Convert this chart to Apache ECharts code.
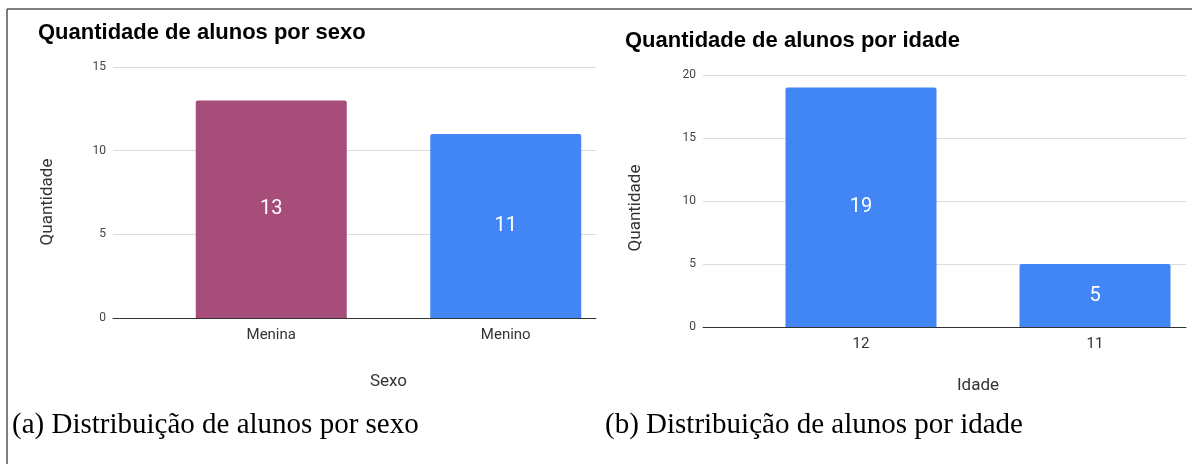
<!DOCTYPE html>
<html>
<head>
<meta charset="utf-8">
<script src="https://cdn.jsdelivr.net/npm/echarts@6/dist/echarts.min.js"></script>
<style>
html,body{margin:0;padding:0;background:#fff;}
#chart{width:1192px;height:464px;}
</style>
</head>
<body>
<div id="chart"></div>
<script>
const sexoCategorias = ['Menina', 'Menino'];
const sexoValores = [13, 11];
const sexoCores = ['#A64D79', '#4285F4'];
const sexoTicks = [0, 5, 10, 15];

const idadeCategorias = ['12', '11'];
const idadeValores = [19, 5];
const idadeCores = ['#4285F4', '#4285F4'];
const idadeTicks = [0, 5, 10, 15, 20];

const titulo1 = 'Quantidade de alunos por sexo';
const titulo2 = 'Quantidade de alunos por idade';
const legenda1 = '(a) Distribuição de alunos por sexo';
const legenda2 = '(b) Distribuição de alunos por idade';

const chart = echarts.init(document.getElementById('chart'), null, {renderer: 'canvas'});

const SANS = 'Roboto';
const tickStyle = {fontFamily: SANS, fontSize: 12, color: '#444'};
const catStyle = {fontFamily: SANS, fontSize: 15, color: '#333'};
const nameStyle = {fontFamily: SANS, fontSize: 17, color: '#333'};

function frameAxes(g, cats, ticks) {
  const step = ticks[1] - ticks[0];
  return {
    x: {
      gridIndex: g, type: 'category', data: cats,
      axisLabel: {show: false}, axisTick: {show: false},
      axisLine: {lineStyle: {color: '#333', width: 1}}
    },
    y: {
      gridIndex: g, type: 'value', min: ticks[0], max: ticks[ticks.length - 1], interval: step,
      axisLabel: Object.assign({margin: 7}, tickStyle),
      axisTick: {show: false}, axisLine: {show: false},
      splitLine: {lineStyle: {color: '#dcdcdc', width: 1}}
    }
  };
}
function barAxes(g, cats, ticks, name, gap) {
  return {
    x: {
      gridIndex: g, type: 'category', data: cats,
      axisLine: {show: false}, axisTick: {show: false},
      axisLabel: Object.assign({margin: 10}, catStyle),
      name: name, nameLocation: 'middle', nameGap: gap, nameTextStyle: nameStyle
    },
    y: {
      gridIndex: g, type: 'value', min: ticks[0], max: ticks[ticks.length - 1],
      show: false, splitLine: {show: false}
    }
  };
}

const f1 = frameAxes(0, sexoCategorias, sexoTicks);
const b1 = barAxes(1, sexoCategorias, sexoTicks, 'Sexo', 55);
const f2 = frameAxes(2, idadeCategorias, idadeTicks);
const b2 = barAxes(3, idadeCategorias, idadeTicks, 'Idade', 50);

function barSeries(xi, vals, cols) {
  return {
    type: 'bar', xAxisIndex: xi, yAxisIndex: xi, barWidth: 151,
    data: vals.map((v, i) => ({value: v, itemStyle: {color: cols[i], borderRadius: [2, 2, 0, 0]}})),
    label: {show: true, position: 'inside', color: '#fff', fontFamily: SANS, fontSize: 20},
    silent: true, animation: false
  };
}

const option = {
  animation: false,
  grid: [
    {left: 113, top: 67, width: 483, height: 251, outerBoundsMode: 'none', containLabel: false},
    {left: 154, top: 67, width: 469, height: 251, outerBoundsMode: 'none', containLabel: false},
    {left: 703, top: 75, width: 483, height: 252, outerBoundsMode: 'none', containLabel: false},
    {left: 744, top: 75, width: 468, height: 252, outerBoundsMode: 'none', containLabel: false}
  ],
  xAxis: [f1.x, b1.x, f2.x, b2.x],
  yAxis: [f1.y, b1.y, f2.y, b2.y],
  series: [barSeries(1, sexoValores, sexoCores), barSeries(3, idadeValores, idadeCores)],
  graphic: [
    {type: 'line', shape: {x1: 7, y1: 9, x2: 1192, y2: 9}, style: {stroke: '#555', lineWidth: 1.5}},
    {type: 'line', shape: {x1: 7, y1: 9, x2: 7, y2: 464}, style: {stroke: '#555', lineWidth: 1.5}},
    {type: 'text', x: 38, y: 33, style: {text: titulo1, font: 'bold 22px "Liberation Sans"', fill: '#000', verticalAlign: 'middle'}},
    {type: 'text', x: 625, y: 40.5, style: {text: titulo2, font: 'bold 22px "Liberation Sans"', fill: '#000', verticalAlign: 'middle'}},
    {type: 'text', x: 48, y: 202, rotation: Math.PI / 2, style: {text: 'Quantidade', font: '17px Roboto', fill: '#333', align: 'center', verticalAlign: 'middle'}},
    {type: 'text', x: 636, y: 208, rotation: Math.PI / 2, style: {text: 'Quantidade', font: '17px Roboto', fill: '#333', align: 'center', verticalAlign: 'middle'}},
    {type: 'text', x: 12, y: 425.5, style: {text: legenda1, font: '29px "Liberation Serif"', fill: '#000', verticalAlign: 'middle'}},
    {type: 'text', x: 605, y: 425.5, style: {text: legenda2, font: '29px "Liberation Serif"', fill: '#000', verticalAlign: 'middle'}}
  ]
};
chart.setOption(option);
</script>
</body>
</html>
